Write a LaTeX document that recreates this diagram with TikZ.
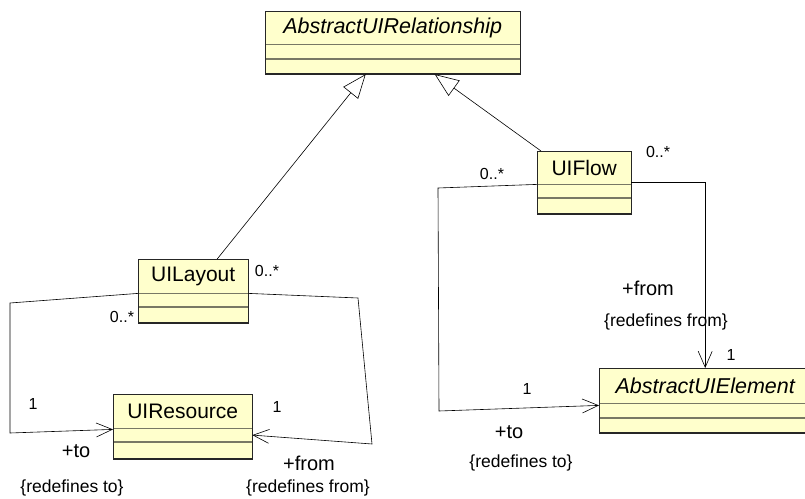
\documentclass[tikz,border=0pt]{standalone}
\usepackage{fontspec}
\setmainfont{Liberation Sans}
\usetikzlibrary{positioning,arrows.meta}
\definecolor{classfill}{RGB}{255,255,204}
\definecolor{divider}{RGB}{120,120,100}
\tikzset{node distance=0pt, auto}

\begin{document}
\begin{tikzpicture}[
  x=1bp, y=-1bp,
  cls/.style={draw=divider, fill=classfill, inner sep=0pt,
    font=\fontsize{21bp}{24bp}\selectfont},
  abstract/.style={cls, font=\fontsize{21.5bp}{24bp}\selectfont\itshape},
  frame/.style={draw=black!85, line width=0.9bp},
  gen/.style={-{Triangle[open, length=24bp, width=19bp, fill=white]}, line width=0.6bp},
  assoc/.style={-{Straight Barb[length=16bp, width=14bp]}, line width=0.6bp},
  mult/.style={font=\fontsize{16bp}{18bp}\selectfont},
  role/.style={font=\fontsize{20bp}{22bp}\selectfont},
  constr/.style={font=\fontsize{17.5bp}{20bp}\selectfont}
]
\useasboundingbox (0,0) rectangle (805,499);
\clip (0,0) rectangle (805,499);

% classes
\node[abstract, anchor=north west, minimum width=255bp, minimum height=33bp] (rel) at (265,11) {AbstractUIRelationship};
\node[cls, minimum width=255bp, minimum height=14bp, below=of rel] (rel-a) {};
\node[cls, minimum width=255bp, minimum height=15bp, below=of rel-a] (rel-b) {};

\node[cls, anchor=north west, minimum width=110bp, minimum height=34bp] (layout) at (138,259) {UILayout};
\node[cls, minimum width=110bp, minimum height=13bp, below=of layout] (layout-a) {};
\node[cls, minimum width=110bp, minimum height=16bp, below=of layout-a] (layout-b) {};

\node[cls, anchor=north west, minimum width=139bp, minimum height=34bp] (res) at (113,394) {UIResource};
\node[cls, minimum width=139bp, minimum height=13bp, below=of res] (res-a) {};
\node[cls, minimum width=139bp, minimum height=17bp, below=of res-a] (res-b) {};

\node[cls, anchor=north west, minimum width=94bp, minimum height=33bp] (flow) at (537,151) {UIFlow};
\node[cls, minimum width=94bp, minimum height=13bp, below=of flow] (flow-a) {};
\node[cls, minimum width=94bp, minimum height=16bp, below=of flow-a] (flow-b) {};

\node[abstract, anchor=north west, minimum width=212bp, minimum height=35bp] (elem) at (599,368) {AbstractUIElement};
\node[cls, minimum width=212bp, minimum height=14bp, below=of elem] (elem-a) {};
\node[cls, minimum width=212bp, minimum height=15bp, below=of elem-a] (elem-b) {};

\foreach \c in {rel, layout, res, flow, elem} {
  \draw[frame] (\c.north west) rectangle (\c-b.south east);
  \draw[frame, line width=1.8bp] (\c-b.south west) -- (\c-b.south east) -- (\c.north east);
}

% generalizations
\draw[gen] ([xshift=24bp]layout.north) -- ([xshift=-27bp]rel-b.south);
\draw[gen] ([xshift=4bp]flow.north west) -- ([xshift=42bp]rel-b.south);

% associations
\draw[assoc] (layout.south west) -- (10,303) -- (10,433) -- ([yshift=-1bp]res.south west);
\draw[assoc] (layout.south east) -- (358,298) -- (372,444) -- (res-a.east);
\draw[assoc] (flow.south west) -- (438,188) -- (439,411) -- ([yshift=-2bp]elem.south west);
\draw[assoc] ([yshift=2bp]flow.south east) -- ([yshift=2bp]elem.north |- flow.south east) -- (elem.north);

% labels
\node[mult] (m-lay-r) at (267,271) {0..*};
\node[mult] (m-lay-l) at (122,317) {0..*};
\node[mult] (m-res-l) at (33,404) {1};
\node[mult] (m-res-r) at (277,407) {1};
\node[role] (r-res-to) at (76,451) {+to};
\node[constr] (c-res-to) at (72,488) {\{redefines to\}};
\node[role] (r-res-from) at (309,463) {+from};
\node[constr] (c-res-from) at (308,488) {\{redefines from\}};

\node[mult] (m-flow-r) at (658,152) {0..*};
\node[mult] (m-flow-l) at (492,174) {0..*};
\node[role] (r-elem-from) at (648,288) {+from};
\node[constr] (c-elem-from) at (666,322) {\{redefines from\}};
\node[mult] (m-elem-t) at (731,355) {1};
\node[mult] (m-elem-l) at (527,389) {1};
\node[role] (r-elem-to) at (509,432) {+to};
\node[constr] (c-elem-to) at (521,463) {\{redefines to\}};
\end{tikzpicture}
\end{document}
